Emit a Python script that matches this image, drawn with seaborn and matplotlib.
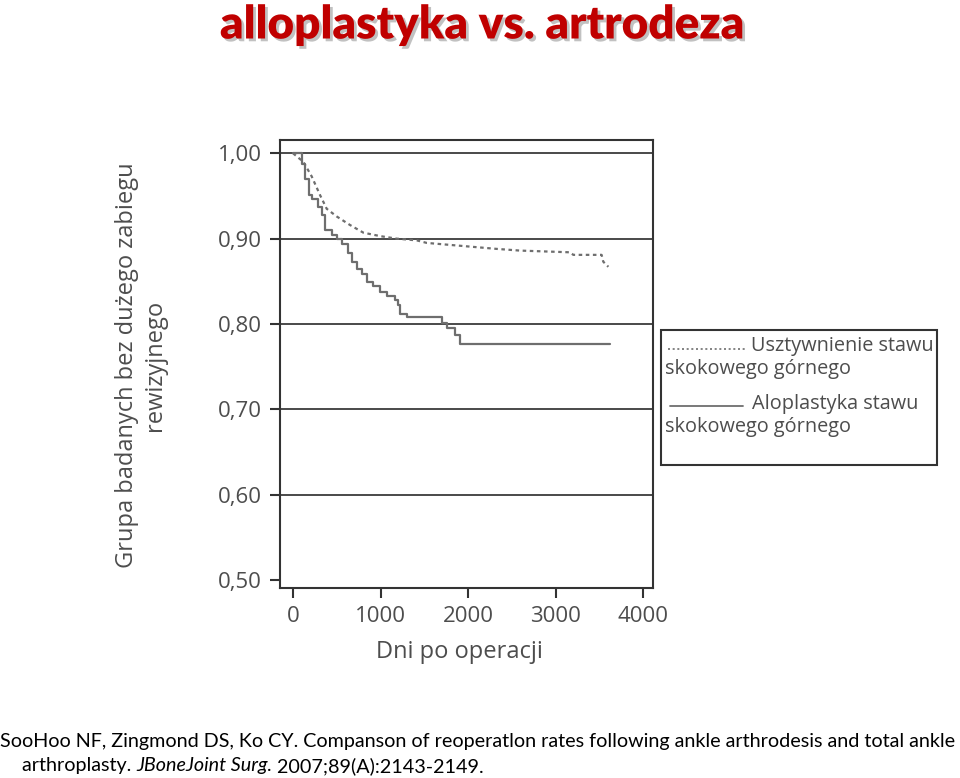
import numpy as np
import pandas as pd
import matplotlib
matplotlib.use("Agg")
import matplotlib.pyplot as plt
import matplotlib.patheffects as pe
from matplotlib.lines import Line2D
from matplotlib.patches import Rectangle
import seaborn as sns

# ---------------- data ----------------
title = "alloplastyka vs. artrodeza"
xlabel = "Dni po operacji"
ylabel = "Grupa badanych bez dużego zabiegu\nrewizyjnego"
legend_first = ["Usztywnienie stawu", "Aloplastyka stawu"]
legend_second = ["skokowego górnego", "skokowego górnego"]

x_ticks = [0, 1000, 2000, 3000, 4000]
y_ticks = [0.50, 0.60, 0.70, 0.80, 0.90, 1.00]
y_tick_labels = ["0,50", "0,60", "0,70", "0,80", "0,90", "1,00"]
grid_levels = [0.60, 0.70, 0.80, 0.90, 1.00]

# Usztywnienie (arthrodesis) - dotted curve
arthrodesis_days = [0, 118, 213, 309, 385, 499, 651, 804, 994, 1185, 1413, 1528,
                    1870, 2327, 2594, 3165, 3204, 3527, 3546, 3604]
arthrodesis_surv = [1.000, 0.990, 0.973, 0.951, 0.935, 0.926, 0.916, 0.907, 0.903,
                    0.900, 0.898, 0.895, 0.892, 0.888, 0.886, 0.884, 0.881, 0.881,
                    0.873, 0.867]

# Aloplastyka (arthroplasty) - solid step curve
arthroplasty_days = [0, 99, 137, 187, 221, 290, 328, 366, 442, 499, 556, 632, 670,
                     728, 785, 842, 918, 994, 1070, 1166, 1204, 1223, 1300, 1699,
                     1756, 1851, 1909, 3623]
arthroplasty_surv = [1.000, 0.988, 0.970, 0.951, 0.947, 0.937, 0.928, 0.910, 0.904,
                     0.900, 0.894, 0.883, 0.873, 0.865, 0.859, 0.849, 0.844, 0.838,
                     0.833, 0.828, 0.822, 0.812, 0.808, 0.801, 0.795, 0.787, 0.777,
                     0.777]

citation_line1 = ("SooHoo NF, Zingmond DS, Ko CY. Companson of reoperatlon rates "
                  "following ankle arthrodesis and total ankle")
citation_parts = ["arthroplasty. ", "JBoneJoint Surg.", " 2007;89(A):2143-2149."]
citation_styles = ["normal", "italic", "normal"]

# ---------------- styling ----------------
sns.set_theme(style="white")
plt.rcParams["font.family"] = ["Open Sans", "DejaVu Sans"]

TXT = "#4d4d4d"
CURVE = "#6e6e6e"
FS = 16
LFS = 14.3

fig = plt.figure(figsize=(9.6, 7.78), dpi=100)
W, H = 960, 778


def fx(px):
    return px / W


def fy(py):
    return 1 - py / H


ax = fig.add_axes([fx(280), fy(588), fx(652.7) - fx(280), fy(140) - fy(588)])

df_a = pd.DataFrame({"days": arthrodesis_days, "surv": arthrodesis_surv})
df_b = pd.DataFrame({"days": arthroplasty_days, "surv": arthroplasty_surv})

for lvl in grid_levels:
    ax.axhline(lvl, color="#3c3c3c", lw=1.3, zorder=1)

sns.lineplot(data=df_a, x="days", y="surv", ax=ax, color=CURVE, lw=1.6,
             linestyle=(0, (1.6, 1.6)), estimator=None, sort=False, zorder=3)
sns.lineplot(data=df_b, x="days", y="surv", ax=ax, color=CURVE, lw=1.6,
             drawstyle="steps-post", estimator=None, sort=False, zorder=3)

ax.set_xlim(-149, 4111)
ax.set_ylim(0.4906, 1.0156)
ax.set_xticks(x_ticks)
ax.set_xticklabels([str(t) for t in x_ticks])
ax.set_yticks(y_ticks)
ax.set_yticklabels(y_tick_labels)
ax.tick_params(axis="both", which="both", direction="out", length=7, width=1.5,
               color="#333333", labelsize=FS, labelcolor=TXT, pad=6,
               bottom=True, left=True)
for s in ax.spines.values():
    s.set_color("#333333")
    s.set_linewidth(1.5)

ax.set_xlabel("")
ax.set_ylabel("")
fig.text(fx(459), fy(652), xlabel, ha="center", va="center", fontsize=FS + 1,
         color=TXT)
fig.text(fx(141), fy(365), ylabel, ha="center", va="center", rotation=90,
         multialignment="center", fontsize=FS + 1, color=TXT, linespacing=1.25)

# ---------------- legend (drawn manually to mimic wrapped layout) -------------
fig.add_artist(Rectangle((fx(661), fy(465)), fx(937) - fx(661), fy(330) - fy(465),
                         transform=fig.transFigure, fill=False,
                         edgecolor="#333333", lw=1.5))
fig.add_artist(Line2D([fx(668), fx(745)], [fy(349), fy(349)],
                      transform=fig.transFigure, color=CURVE, lw=1.2,
                      linestyle=(0, (1.2, 1.6))))
fig.add_artist(Line2D([fx(670), fx(743)], [fy(406), fy(406)],
                      transform=fig.transFigure, color=CURVE, lw=1.3))
fig.text(fx(751), fy(346), legend_first[0], ha="left", va="center",
         fontsize=LFS, color=TXT)
fig.text(fx(665), fy(369), legend_second[0], ha="left", va="center",
         fontsize=LFS, color=TXT)
fig.text(fx(752), fy(404), legend_first[1], ha="left", va="center",
         fontsize=LFS, color=TXT)
fig.text(fx(665), fy(427), legend_second[1], ha="left", va="center",
         fontsize=LFS, color=TXT)

# ---------------- title ----------------
fig.text(fx(482), fy(25), title, ha="center", va="center", fontsize=33,
         fontweight="heavy", color="#C00000", family=["Lato", "DejaVu Sans"],
         path_effects=[pe.SimplePatchShadow(offset=(2, -2), shadow_rgbFace="#999999",
                                            alpha=0.6), pe.Normal()])

# ---------------- citation ----------------
cit_font = ["Lato", "DejaVu Sans"]
t1 = fig.text(0.0, fy(741), citation_line1, ha="left", va="center",
              fontsize=14, color="black", family=cit_font)
fig.canvas.draw()
r = fig.canvas.get_renderer()
w1 = t1.get_window_extent(r).width
cfs = 14 * 958 / w1
t1.set_fontsize(cfs)

xpos = 22
for part, st in zip(citation_parts, citation_styles):
    t = fig.text(fx(xpos), fy(766), part, ha="left", va="center", fontsize=cfs,
                 style=st, color="black", family=cit_font)
    fig.canvas.draw()
    xpos += t.get_window_extent(fig.canvas.get_renderer()).width

fig.savefig("out.png", dpi=100)
